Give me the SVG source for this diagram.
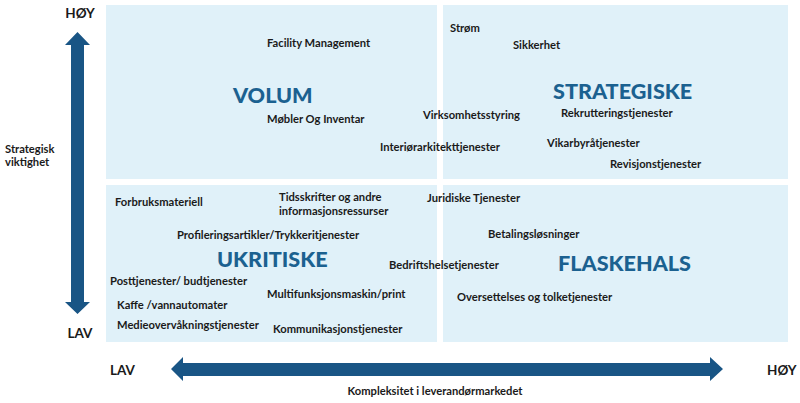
<svg xmlns="http://www.w3.org/2000/svg" width="800" height="403" viewBox="0 0 800 403">
<style>
.q{fill:#e0f1f9}
.t{font-family:Lato,"Open Sans",sans-serif;font-weight:bold;font-size:11.2px;fill:#1a1a1a}
.h{font-family:Lato,"Open Sans",sans-serif;font-weight:900;font-size:21.6px;fill:#1b6190}
.ax{font-family:Lato,"Open Sans",sans-serif;font-weight:bold;font-size:13.5px;fill:#1a1a1a}
.arr{fill:#195585}
</style>
<rect width="800" height="403" fill="#ffffff"/>
<g id="quadrants">
<rect id="q-volum" class="q" x="106" y="5" width="331" height="174"/>
<rect id="q-strategiske" class="q" x="443" y="5" width="345" height="174"/>
<rect id="q-ukritiske" class="q" x="106" y="185" width="331" height="157"/>
<rect id="q-flaskehals" class="q" x="443" y="185" width="345" height="157"/>
</g>
<g id="axes">
<polygon class="arr" points="77.5,32 90,45 84,45 84,302 90,302 77.5,314 65,302 71,302 71,45 65,45"/>
<polygon class="arr" points="171,369 183,357 183,363 710,363 710,357 723,369 710,381 710,376 183,376 183,381"/>
</g>
<g id="axis-labels">
<text class="ax" x="80" y="18" text-anchor="middle">HØY</text>
<text class="ax" x="80" y="338" text-anchor="middle">LAV</text>
<text class="t" x="5" y="153">Strategisk</text>
<text class="t" x="5" y="166">viktighet</text>
<text class="ax" x="110" y="375">LAV</text>
<text class="ax" x="767" y="375">HØY</text>
<text class="t" x="435" y="395" text-anchor="middle">Kompleksitet i leverandørmarkedet</text>
</g>
<g id="titles">
<text class="h" x="233" y="103">VOLUM</text>
<text class="h" x="553" y="99">STRATEGISKE</text>
<text class="h" x="217" y="267">UKRITISKE</text>
<text class="h" x="558" y="271">FLASKEHALS</text>
</g>
<g id="items">
<text class="t" x="267" y="47">Facility Management</text>
<text class="t" x="267" y="123">Møbler Og Inventar</text>
<text class="t" x="380" y="151">Interiørarkitekttjenester</text>
<text class="t" x="450" y="32">Strøm</text>
<text class="t" x="513" y="49">Sikkerhet</text>
<text class="t" x="423" y="119">Virksomhetsstyring</text>
<text class="t" x="561" y="117">Rekrutteringstjenester</text>
<text class="t" x="547" y="147">Vikarbyråtjenester</text>
<text class="t" x="610" y="168">Revisjonstjenester</text>
<text class="t" x="115" y="206">Forbruksmateriell</text>
<text class="t" x="279" y="201">Tidsskrifter og andre</text>
<text class="t" x="279" y="215">informasjonsressurser</text>
<text class="t" x="177" y="239">Profileringsartikler/Trykkeritjenester</text>
<text class="t" x="110" y="285">Posttjenester/ budtjenester</text>
<text class="t" x="117" y="309">Kaffe /vannautomater</text>
<text class="t" x="117" y="329">Medieovervåkningstjenester</text>
<text class="t" x="267" y="298">Multifunksjonsmaskin/print</text>
<text class="t" x="273" y="333">Kommunikasjonstjenester</text>
<text class="t" x="427" y="202">Juridiske Tjenester</text>
<text class="t" x="488" y="238">Betalingsløsninger</text>
<text class="t" x="389" y="269">Bedriftshelsetjenester</text>
<text class="t" x="457" y="301">Oversettelses og tolketjenester</text>
</g>
</svg>
